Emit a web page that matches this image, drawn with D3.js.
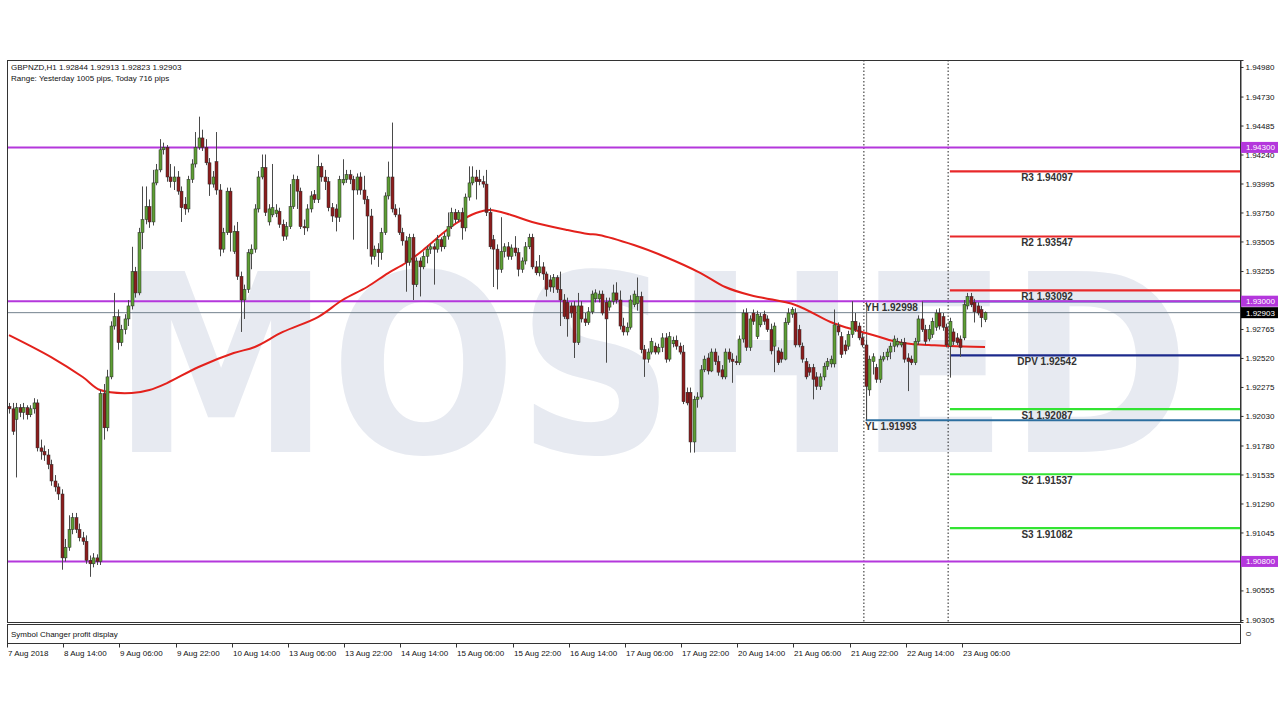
<!DOCTYPE html>
<html><head><meta charset="utf-8">
<script src="https://cdn.jsdelivr.net/npm/d3@7/dist/d3.min.js"></script>
<style>
body{margin:0;background:#fff}
svg{display:block}
text{font-family:"Liberation Sans",Arial,sans-serif}
</style></head>
<body><svg id="chart" width="1280" height="720"></svg>
<script>
// ---------------- DATA ----------------
const titleLine = "GBPNZD,H1  1.92844 1.92913 1.92823 1.92903";
const rangeLine = "Range: Yesterday 1005 pips, Today 716 pips";
const subWindowTitle = "Symbol Changer profit display";

const timeLabels = ["7 Aug 2018","8 Aug 14:00","9 Aug 06:00","9 Aug 22:00","10 Aug 14:00","13 Aug 06:00","13 Aug 22:00","14 Aug 14:00","15 Aug 06:00","15 Aug 22:00","16 Aug 14:00","17 Aug 06:00","17 Aug 22:00","20 Aug 14:00","21 Aug 06:00","21 Aug 22:00","22 Aug 14:00","23 Aug 06:00"];
const timeLabelBars = [0,16,32,48,64,80,96,112,128,144,160,176,192,208,224,240,256,272];

const priceTicks = [1.94980,1.94730,1.94485,1.94240,1.93995,1.93750,1.93505,1.93255,1.92765,1.92520,1.92275,1.92030,1.91780,1.91535,1.91290,1.91045,1.90555,1.90305];
const priceMax = 1.95039, priceMin = 1.90288;

const opens = [1.9211,1.9209,1.9200,1.9210,1.9206,1.9210,1.9204,1.9209,1.9214,1.9176,1.9173,1.9170,1.9162,1.9148,1.9143,1.9137,1.9083,1.9092,1.9107,1.9117,1.9107,1.9100,1.9097,1.9081,1.9078,1.9083,1.9080,1.9222,1.9193,1.9236,
1.9279,1.9287,1.9265,1.9276,1.9285,1.9296,1.9325,1.9307,1.9358,1.9369,1.9380,1.9367,1.9400,1.9411,1.9428,1.9430,1.9405,1.9401,1.9405,1.9393,1.9382,1.9378,1.9403,1.9416,1.9430,1.9438,1.9430,1.9417,1.9399,1.9418,
1.9394,1.9344,1.9358,1.9393,1.9342,1.9359,1.9321,1.9301,1.9310,1.9340,1.9344,1.9378,1.9405,1.9413,1.9367,1.9373,1.9374,1.9376,1.9365,1.9355,1.9363,1.9380,1.9403,1.9393,1.9363,1.9362,1.9378,1.9390,1.9386,1.9414,
1.9405,1.9401,1.9379,1.9378,1.9371,1.9400,1.9403,1.9407,1.9403,1.9394,1.9405,1.9394,1.9386,1.9372,1.9338,1.9344,1.9341,1.9358,1.9389,1.9405,1.9378,1.9373,1.9358,1.9351,1.9333,1.9354,1.9314,1.9334,1.9329,1.9338,
1.9344,1.9346,1.9344,1.9352,1.9346,1.9355,1.9363,1.9375,1.9369,1.9375,1.9362,1.9388,1.9400,1.9405,1.9403,1.9401,1.9399,1.9375,1.9352,1.9344,1.9327,1.9342,1.9346,1.9338,1.9345,1.9341,1.9327,1.9334,1.9346,1.9354,
1.9329,1.9324,1.9329,1.9323,1.9318,1.9312,1.9320,1.9310,1.9301,1.9299,1.9296,1.9296,1.9265,1.9296,1.9285,1.9282,1.9291,1.9302,1.9302,1.9306,1.9299,1.9295,1.9300,1.9307,1.9301,1.9279,1.9274,1.9278,1.9297,1.9298,
1.9304,1.9259,1.9251,1.9257,1.9262,1.9257,1.9261,1.9269,1.9251,1.9264,1.9267,1.9262,1.9257,1.9223,1.9223,1.9181,1.9217,1.9219,1.9242,1.9252,1.9241,1.9257,1.9249,1.9242,1.9236,1.9257,1.9251,1.9249,1.9248,1.9268,
1.9290,1.9261,1.9290,1.9270,1.9280,1.9289,1.9285,1.9276,1.9262,1.9258,1.9257,1.9251,1.9282,1.9289,1.9290,1.9276,1.9262,1.9249,1.9244,1.9244,1.9236,1.9228,1.9236,1.9245,1.9247,1.9247,1.9279,1.9270,1.9263,1.9262,
1.9272,1.9283,1.9279,1.9269,1.9263,1.9225,1.9249,1.9244,1.9234,1.9251,1.9253,1.9257,1.9262,1.9263,1.9263,1.9265,1.9252,1.9251,1.9248,1.9266,1.9285,1.9276,1.9268,1.9272,1.9278,1.9290,1.9287,1.9278,1.9262,1.9274,
1.9269,1.9268,1.9269,1.9296,1.9304,1.9299,1.9296,1.9293,1.92844];

const highs = [1.9214,1.9214,1.9214,1.9213,1.9214,1.9212,1.9212,1.9218,1.9217,1.9183,1.9178,1.9175,1.9166,1.9153,1.9146,1.9141,1.9099,1.9119,1.9121,1.9121,1.9112,1.9105,1.9102,1.9085,1.9087,1.9086,1.9225,1.9230,1.9242,1.9283,
1.9307,1.9293,1.9280,1.9289,1.9301,1.9346,1.9329,1.9362,1.9397,1.9397,1.9386,1.9411,1.9416,1.9437,1.9434,1.9432,1.9416,1.9414,1.9410,1.9397,1.9388,1.9406,1.9420,1.9443,1.9456,1.9445,1.9437,1.9421,1.9410,1.9443,
1.9399,1.9362,1.9396,1.9396,1.9364,1.9367,1.9325,1.9314,1.9344,1.9348,1.9382,1.9410,1.9424,1.9424,1.9382,1.9416,1.9382,1.9379,1.9369,1.9367,1.9399,1.9407,1.9406,1.9396,1.9369,1.9382,1.9393,1.9394,1.9424,1.9417,
1.9411,1.9405,1.9383,1.9382,1.9406,1.9420,1.9411,1.9411,1.9406,1.9408,1.9409,1.9406,1.9389,1.9378,1.9347,1.9349,1.9362,1.9392,1.9418,1.9451,1.9382,1.9379,1.9362,1.9355,1.9357,1.9357,1.9337,1.9337,1.9342,1.9347,
1.9349,1.9349,1.9356,1.9354,1.9358,1.9375,1.9379,1.9378,1.9377,1.9379,1.9391,1.9414,1.9414,1.9411,1.9411,1.9406,1.9411,1.9379,1.9356,1.9348,1.9371,1.9349,1.9350,1.9348,1.9355,1.9345,1.9337,1.9350,1.9357,1.9357,
1.9334,1.9339,1.9333,1.9325,1.9322,1.9323,1.9322,1.9325,1.9306,1.9303,1.9299,1.9300,1.9307,1.9300,1.9290,1.9295,1.9309,1.9310,1.9309,1.9309,1.9303,1.9303,1.9314,1.9316,1.9309,1.9286,1.9282,1.9305,1.9309,1.9320,
1.9308,1.9263,1.9260,1.9269,1.9265,1.9264,1.9273,1.9273,1.9274,1.9270,1.9271,1.9265,1.9263,1.9227,1.9227,1.9220,1.9223,1.9246,1.9254,1.9256,1.9260,1.9260,1.9254,1.9246,1.9260,1.9260,1.9256,1.9254,1.9271,1.9293,
1.9294,1.9288,1.9293,1.9292,1.9290,1.9292,1.9288,1.9281,1.9282,1.9261,1.9260,1.9286,1.9294,1.9295,1.9294,1.9280,1.9265,1.9252,1.9247,1.9247,1.9240,1.9239,1.9248,1.9252,1.9254,1.9293,1.9282,1.9274,1.9267,1.9275,
1.9300,1.9290,1.9282,1.9273,1.9267,1.9254,1.9256,1.9247,1.9254,1.9257,1.9260,1.9265,1.9271,1.9269,1.9268,1.9269,1.9256,1.9254,1.9269,1.9288,1.92998,1.9280,1.9280,1.9286,1.9293,1.9294,1.9290,1.9281,1.9286,1.9277,
1.9273,1.9271,1.9301,1.9307,1.9307,1.9302,1.9299,1.9296,1.92913];

const lows = [1.9205,1.9187,1.9151,1.9202,1.9200,1.9200,1.9202,1.9205,1.9173,1.9166,1.9165,1.9158,1.9144,1.9139,1.9132,1.9073,1.9080,1.9089,1.9103,1.9104,1.9097,1.9094,1.9078,1.9067,1.9075,1.9077,1.9077,1.9183,1.9190,1.9234,
1.9276,1.9259,1.9262,1.9272,1.9279,1.9293,1.9303,1.9305,1.9344,1.9365,1.9362,1.9364,1.9398,1.9409,1.9424,1.9401,1.9396,1.9394,1.9390,1.9367,1.9373,1.9375,1.9400,1.9413,1.9428,1.9427,1.9415,1.9389,1.9396,1.9390,
1.9338,1.9341,1.9356,1.9342,1.9340,1.9318,1.9274,1.9285,1.9307,1.9327,1.9341,1.9375,1.9403,1.9372,1.9364,1.9371,1.9371,1.9362,1.9351,1.9352,1.9361,1.9378,1.9378,1.9361,1.9356,1.9359,1.9375,1.9383,1.9383,1.9401,
1.9394,1.9376,1.9367,1.9359,1.9367,1.9398,1.9400,1.9399,1.9352,1.9390,1.9390,1.9382,1.9344,1.9331,1.9335,1.9329,1.9335,1.9356,1.9386,1.9375,1.9371,1.9356,1.9347,1.9308,1.9330,1.9301,1.9312,1.9304,1.9327,1.9332,
1.9340,1.9314,1.9341,1.9342,1.9344,1.9352,1.9361,1.9366,1.9367,1.9352,1.9359,1.9385,1.9398,1.9386,1.9398,1.9396,1.9372,1.9344,1.9312,1.9310,1.9324,1.9337,1.9335,1.9335,1.9338,1.9321,1.9324,1.9331,1.9344,1.9327,
1.9322,1.9321,1.9318,1.9304,1.9308,1.9307,1.9307,1.9279,1.9285,1.9270,1.9286,1.9252,1.9263,1.9282,1.9279,1.9280,1.9289,1.9299,1.9299,1.9288,1.9248,1.9292,1.9297,1.9298,1.9276,1.9271,1.9271,1.9276,1.9295,1.9292,
1.9256,1.9236,1.9248,1.9255,1.9255,1.9255,1.9257,1.9248,1.9249,1.9261,1.9259,1.9255,1.9213,1.9212,1.9172,1.9172,1.9210,1.9217,1.9240,1.9238,1.9240,1.9246,1.9237,1.9234,1.9234,1.9248,1.9231,1.9246,1.9246,1.9265,
1.9258,1.9258,1.9280,1.9268,1.9278,1.9280,1.9274,1.9255,1.9240,1.9246,1.9248,1.9250,1.9280,1.9286,1.9261,1.9261,1.9248,1.9234,1.9237,1.9217,1.9225,1.9225,1.9233,1.9242,1.9244,1.9244,1.9271,1.9252,1.9255,1.9259,
1.9269,1.9274,1.9267,1.9261,1.91993,1.9220,1.9238,1.9231,1.9231,1.9249,1.9250,1.9251,1.9257,1.9261,1.9261,1.9248,1.9224,1.9246,1.9246,1.9263,1.9274,1.9263,1.9266,1.9269,1.9275,1.9276,1.9275,1.9261,1.92354,1.9263,
1.9263,1.9253,1.9267,1.9293,1.9295,1.9282,1.9288,1.9278,1.92823];

const closes = [1.9209,1.9190,1.9210,1.9206,1.9210,1.9204,1.9209,1.9214,1.9176,1.9173,1.9170,1.9162,1.9148,1.9143,1.9137,1.9083,1.9092,1.9107,1.9117,1.9107,1.9100,1.9097,1.9081,1.9078,1.9083,1.9080,1.9222,1.9193,1.9236,1.9279,
1.9287,1.9265,1.9276,1.9285,1.9296,1.9325,1.9307,1.9358,1.9369,1.9380,1.9367,1.9400,1.9411,1.9428,1.9430,1.9405,1.9401,1.9405,1.9393,1.9379,1.9378,1.9403,1.9416,1.9430,1.9438,1.9430,1.9417,1.9399,1.9405,1.9394,
1.9344,1.9358,1.9393,1.9358,1.9359,1.9321,1.9301,1.9310,1.9341,1.9344,1.9378,1.9405,1.9413,1.9375,1.9378,1.9379,1.9377,1.9365,1.9355,1.9363,1.9380,1.9403,1.9393,1.9363,1.9362,1.9378,1.9389,1.9386,1.9414,1.9405,
1.9401,1.9379,1.9372,1.9371,1.9403,1.9403,1.9407,1.9403,1.9394,1.9405,1.9394,1.9386,1.9372,1.9338,1.9344,1.9341,1.9358,1.9389,1.9405,1.9378,1.9373,1.9358,1.9351,1.9333,1.9354,1.9314,1.9334,1.9329,1.9338,1.9344,
1.9346,1.9344,1.9352,1.9346,1.9355,1.9363,1.9375,1.9369,1.9375,1.9362,1.9388,1.9400,1.9405,1.9401,1.9401,1.9399,1.9375,1.9346,1.9344,1.9327,1.9342,1.9346,1.9338,1.9345,1.9341,1.9327,1.9334,1.9346,1.9354,1.9329,
1.9324,1.9329,1.9323,1.9310,1.9312,1.9320,1.9310,1.9301,1.9287,1.9285,1.9290,1.9265,1.9296,1.9285,1.9282,1.9291,1.9306,1.9307,1.9306,1.9290,1.9285,1.9300,1.9307,1.9301,1.9279,1.9274,1.9278,1.9301,1.9306,1.9304,
1.9259,1.9251,1.9257,1.9266,1.9257,1.9261,1.9269,1.9251,1.9270,1.9267,1.9262,1.9257,1.9215,1.9214,1.9181,1.9217,1.9219,1.9242,1.9251,1.9241,1.9257,1.9249,1.9240,1.9236,1.9257,1.9251,1.9249,1.9248,1.9268,1.9290,
1.9261,1.9285,1.9283,1.9289,1.9287,1.9283,1.9276,1.9258,1.9279,1.9248,1.9251,1.9282,1.9290,1.9293,1.9263,1.9263,1.9251,1.9236,1.9240,1.9234,1.9228,1.9236,1.9245,1.9249,1.9251,1.9280,1.9274,1.9255,1.9258,1.9272,
1.9283,1.9276,1.9269,1.9263,1.9228,1.9251,1.9253,1.9234,1.9251,1.9253,1.9257,1.9262,1.9268,1.9266,1.9265,1.9251,1.9249,1.9248,1.9266,1.9285,1.9276,1.9266,1.9276,1.9283,1.9290,1.9279,1.9278,1.9263,1.9283,1.9266,
1.9265,1.9261,1.9297,1.9304,1.9297,1.9291,1.9290,1.9286,1.92903];

const maBars   = [0,12,21,26,35,40,45,54,64,70,78,88,95,102,108,113,118,124,128,133,137,143,149,159,165,168,178,187,197,204,211,215,224,234,239,243,248,253,257,262,268,278];
const maValues = [1.92714,1.92528,1.92359,1.92249,1.92224,1.92249,1.92308,1.92444,1.92562,1.92613,1.92740,1.92866,1.93010,1.93120,1.93238,1.93323,1.93433,1.93585,1.93670,1.93746,1.93771,1.93729,1.93670,1.93602,1.93568,1.93560,1.93475,1.93374,1.93238,1.93120,1.93052,1.93027,1.92968,1.92824,1.92773,1.92740,1.92697,1.92655,1.92638,1.92630,1.92621,1.92613];

const horizontalLevels = [1.94300, 1.93000, 1.90800];
const lastPrice = 1.92903;
const pivotNames  = ["R3","R2","R1","DPV","S1","S2","S3"];
const pivotValues = [1.94097,1.93547,1.93092,1.92542,1.92087,1.91537,1.91082];
const pivotStartBar = 268;
const yesterdayHigh = 1.92998, yesterdayHighBar = 260;
const yesterdayLow = 1.91993, yesterdayLowBar = 244;
const separatorBars = [243.5, 267.5];
const watermark = "MOSHED";

// ---------------- LAYOUT ----------------
const L = 7, R = 1240, T = 60, B = 622;
const svg = d3.select("#chart");
const nBars = closes.length;
const x = d3.scaleLinear().domain([0, nBars - 1]).range([9, 985]);
const y = d3.scaleLinear().domain([priceMin, priceMax]).range([B, T]);

const purple = "#b437dc", redC = "#e8282a", greenC = "#33e433", navy = "#1c2a8c";

svg.append("rect").attr("x",0).attr("y",0).attr("width",1280).attr("height",720).attr("fill","#fff");

// watermark
svg.append("text").text(watermark)
  .attr("x",112).attr("y",452)
  .attr("textLength",1078).attr("lengthAdjust","spacingAndGlyphs")
  .style("font-family","'DejaVu Sans',sans-serif").style("font-weight","bold")
  .style("font-size","248px").attr("fill","#e7eaf1");

svg.append("defs").append("clipPath").attr("id","plot")
  .append("rect").attr("x",L).attr("y",T).attr("width",R-L).attr("height",B-T);
const g = svg.append("g").attr("clip-path","url(#plot)");

// separators (dotted)
g.selectAll("line.sep").data(separatorBars).join("line")
  .attr("x1",d=>x(d)).attr("x2",d=>x(d)).attr("y1",T).attr("y2",B)
  .attr("stroke","#222").attr("stroke-width",1).attr("stroke-dasharray","1.5,2");

// last price line
g.append("line").attr("x1",L).attr("x2",R).attr("y1",y(lastPrice)).attr("y2",y(lastPrice))
  .attr("stroke","#74828e").attr("stroke-width",1);

// yesterday high / low markers
g.append("line").attr("x1",x(yesterdayLowBar)+1).attr("x2",x(yesterdayLowBar)+1)
  .attr("y1",y(yesterdayHigh)).attr("y2",y(yesterdayLow))
  .attr("stroke","#666").attr("stroke-width",1);
g.append("line").attr("x1",x(yesterdayHighBar)).attr("x2",R).attr("y1",y(yesterdayHigh)).attr("y2",y(yesterdayHigh))
  .attr("stroke","#2d6fa0").attr("stroke-width",2);
g.append("line").attr("x1",x(yesterdayLowBar)).attr("x2",R).attr("y1",y(yesterdayLow)).attr("y2",y(yesterdayLow))
  .attr("stroke","#2d6fa0").attr("stroke-width",2);

// purple levels
g.selectAll("line.lvl").data(horizontalLevels).join("line")
  .attr("x1",L).attr("x2",R).attr("y1",d=>y(d)).attr("y2",d=>y(d))
  .attr("stroke",purple).attr("stroke-width",2);

// pivot lines
const pivColor = n => n[0]==="R" ? redC : (n[0]==="S" ? greenC : navy);
g.selectAll("line.piv").data(pivotValues).join("line")
  .attr("x1",x(pivotStartBar)).attr("x2",R).attr("y1",d=>y(d)).attr("y2",d=>y(d))
  .attr("stroke",(d,i)=>pivColor(pivotNames[i])).attr("stroke-width",2.2);

// MA line
const maPts = maBars.map((b,i)=>[b, maValues[i]]);
g.append("path").datum(maPts)
  .attr("d", d3.line().x(d=>x(d[0])).y(d=>y(d[1])).curve(d3.curveCatmullRom))
  .attr("fill","none").attr("stroke","#e3211c").attr("stroke-width",2);

// candles
const idx = d3.range(nBars);
g.selectAll("line.wick").data(idx).join("line")
  .attr("x1",i=>Math.round(x(i))+0.5).attr("x2",i=>Math.round(x(i))+0.5)
  .attr("y1",i=>y(highs[i])).attr("y2",i=>y(lows[i]))
  .attr("stroke","#4a4a4a").attr("stroke-width",1);
g.selectAll("rect.body").data(idx).join("rect")
  .attr("x",i=>Math.round(x(i))-1)
  .attr("width",3)
  .attr("y",i=>y(Math.max(opens[i],closes[i])))
  .attr("height",i=>Math.max(1, Math.abs(y(opens[i])-y(closes[i]))))
  .attr("fill",i=>closes[i]>=opens[i] ? "#5e9e34" : "#8c1d1d")
  .attr("stroke","#2a2a2a").attr("stroke-width",0.5);

// pivot labels
svg.selectAll("text.piv").data(pivotValues).join("text")
  .attr("x",1047).attr("y",d=>y(d)+10).attr("text-anchor","middle")
  .style("font-size","10px").style("font-weight","bold").attr("fill","#333")
  .text((d,i)=>pivotNames[i]+" "+d.toFixed(5));
svg.append("text").attr("x",865).attr("y",y(yesterdayHigh)+10)
  .style("font-size","10px").style("font-weight","bold").attr("fill","#333")
  .text("YH "+yesterdayHigh.toFixed(5));
svg.append("text").attr("x",865).attr("y",y(yesterdayLow)+10)
  .style("font-size","10px").style("font-weight","bold").attr("fill","#333")
  .text("YL "+yesterdayLow.toFixed(5));

// frames
svg.append("rect").attr("x",L+0.5).attr("y",T+0.5).attr("width",R-L).attr("height",B-T)
  .attr("fill","none").attr("stroke","#333").attr("stroke-width",1);
svg.append("rect").attr("x",L+0.5).attr("y",624.5).attr("width",R-L).attr("height",19)
  .attr("fill","none").attr("stroke","#333").attr("stroke-width",1);
svg.append("text").attr("x",11).attr("y",637).style("font-size","8px").attr("fill","#111").text(subWindowTitle);
svg.append("text").attr("x",1246).attr("y",634).attr("transform","rotate(90,1246,634)")
  .style("font-size","8px").attr("fill","#333").attr("text-anchor","middle").text("0");

// right axis
const yAxis = d3.axisRight(y).tickValues(priceTicks).tickSize(3).tickFormat(d3.format(".5f"));
const ya = svg.append("g").attr("transform",`translate(${R+0.5},0)`).call(yAxis);
ya.select(".domain").attr("stroke","#333");
ya.selectAll(".tick line").attr("stroke","#333");
ya.selectAll(".tick text").attr("x",5).style("font-size","8px").style("font-family","'Liberation Sans',Arial,sans-serif").attr("fill","#111");

// highlighted axis labels
const tags = horizontalLevels.map(v=>({v, bg:purple})).concat([{v:lastPrice, bg:"#000"}]);
const tg = svg.selectAll("g.tag").data(tags).join("g").attr("transform",d=>`translate(${R+1},${y(d.v)})`);
tg.append("rect").attr("x",0).attr("y",-5.5).attr("width",37).attr("height",11).attr("fill",d=>d.bg);
tg.append("text").attr("x",5).attr("y",3).style("font-size","8px").attr("fill","#fff").text(d=>d.v.toFixed(5));

// time axis
const xa = svg.append("g").attr("transform","translate(0,643.5)");
xa.append("line").attr("x1",L).attr("x2",R).attr("stroke","#333");
xa.selectAll("line.t").data(timeLabelBars).join("line")
  .attr("x1",b=>Math.round(x(b))-1.5).attr("x2",b=>Math.round(x(b))-1.5).attr("y1",0).attr("y2",4).attr("stroke","#333");
xa.selectAll("text").data(timeLabelBars).join("text")
  .attr("x",b=>Math.round(x(b))-1).attr("y",12).style("font-size","8px").attr("fill","#111")
  .text((b,i)=>timeLabels[i]);

// header
svg.append("text").attr("x",11).attr("y",70).style("font-size","8px").attr("fill","#111").text(titleLine);
svg.append("text").attr("x",11).attr("y",81).style("font-size","8px").attr("fill","#111").text(rangeLine);
</script>
</body></html>
